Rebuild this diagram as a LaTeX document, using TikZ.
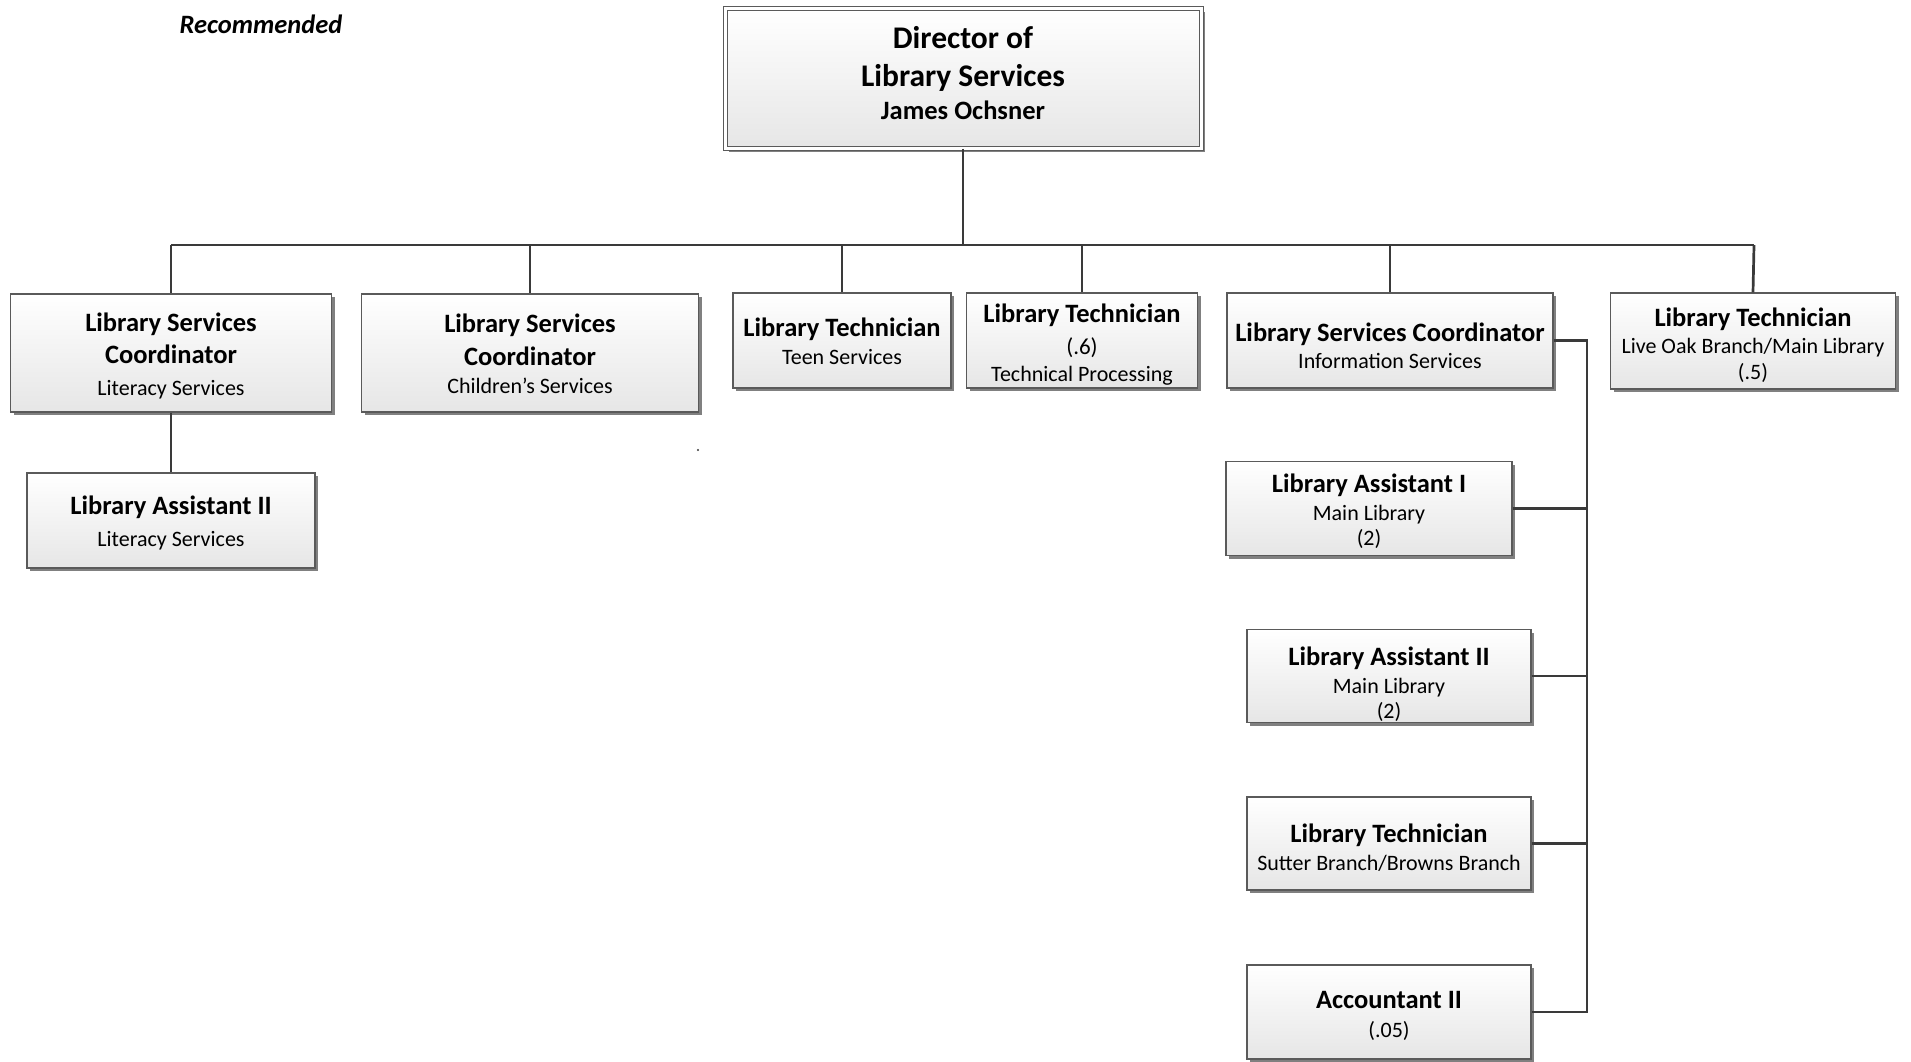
\documentclass[tikz,border=0pt]{standalone}
\usepackage{fontspec}
\setmainfont{Carlito}
\usetikzlibrary{shadows}
\definecolor{boxline}{HTML}{5A5A5A}
\definecolor{boxbot}{HTML}{E6E6E6}
\definecolor{shade}{HTML}{808080}
\definecolor{conn}{HTML}{3A3A3A}
\newcommand{\hdr}{\bfseries\fontsize{26.5}{26}\selectfont}
\newcommand{\bighdr}{\bfseries\fontsize{31.5}{30}\selectfont}
\begin{document}
\begin{tikzpicture}[x=1pt,y=-1pt,
  orgbox/.style={draw=boxline, line width=1.2pt, top color=white, bottom color=boxbot,
    drop shadow={shadow xshift=3pt, shadow yshift=-3pt, fill=shade, opacity=1}},
  topbox/.style={orgbox, double=white, double distance=3pt, line width=1pt,
    drop shadow={shadow xshift=4pt, shadow yshift=-4pt, fill=shade, opacity=1}},
  txt/.style={align=center, inner sep=0pt, font=\fontsize{22}{26}\selectfont, text=black},
  link/.style={draw=conn, line width=2.7pt}]
\useasboundingbox (0,0) rectangle (1911,1062);
\fill[white] (0,0) rectangle (1911,1062);

\node[font=\bfseries\itshape\fontsize{26.5}{30}\selectfont] (rec) at (261,24) {Recommended};

% boxes
\node[topbox, minimum width=476pt, minimum height=140pt] (dir) at (963,78.5) {};
\node[orgbox, minimum width=321pt, minimum height=118pt] (a) at (171,353) {};
\node[orgbox, minimum width=288pt, minimum height=95pt] (b) at (171,520.5) {};
\node[orgbox, minimum width=337pt, minimum height=118pt] (c) at (530,353) {};
\node[orgbox, minimum width=218pt, minimum height=95pt] (d) at (842,340.5) {};
\node[orgbox, minimum width=231pt, minimum height=95pt] (e) at (1082,340.5) {};
\node[orgbox, minimum width=326pt, minimum height=95pt] (f) at (1390,340.5) {};
\node[orgbox, minimum width=285pt, minimum height=96pt] (g) at (1753,341) {};
\node[orgbox, minimum width=286pt, minimum height=94pt] (h) at (1369,508.5) {};
\node[orgbox, minimum width=284pt, minimum height=93pt] (i) at (1389,676) {};
\node[orgbox, minimum width=284pt, minimum height=93pt] (j) at (1389,843.5) {};
\node[orgbox, minimum width=284pt, minimum height=94pt] (k) at (1389,1012) {};

% texts
\node[txt] (dirt) at ([yshift=5.5pt]dir.center)
  {{\bighdr Director of}\\[12pt]{\bighdr Library Services}\\[7.5pt]{\hdr James Ochsner}};
\node[txt] (at) at ([yshift=-2.5pt]a.center)
  {{\hdr Library Services}\\[6.5pt]{\hdr Coordinator}\\[5.5pt]Literacy Services};
\node[txt] (bt) at ([yshift=-2.5pt]b.center)
  {{\hdr Library Assistant II}\\[6.5pt]Literacy Services};
\node[txt] (ct) at ([yshift=-1pt]c.center)
  {{\hdr Library Services}\\[6.5pt]{\hdr Coordinator}\\[2pt]Children’s Services};
\node[txt] (dt) at ([yshift=-1pt]d.center)
  {{\hdr Library Technician}\\[2pt]Teen Services};
\node[txt] (et) at ([yshift=-3.7pt]e.center)
  {{\hdr Library Technician}\\[6pt]{\fontsize{23}{26}\selectfont(.6)}\\[1pt]Technical Processing};
\node[txt] (ft) at ([yshift=-5.5pt]f.center)
  {{\hdr Library Services Coordinator}\\[1pt]Information Services};
\node[txt] (gt) at ([yshift=-4.5pt]g.center)
  {{\hdr Library Technician}\\[1pt]Live Oak Branch/Main Library\\[0pt](.5)};
\node[txt] (ht) at ([yshift=-3pt]h.center)
  {{\hdr Library Assistant I}\\[2pt]Main Library\\[-1pt](2)};
\node[txt] (it) at ([yshift=-8pt]i.center)
  {{\hdr Library Assistant II}\\[2pt]Main Library\\[-1pt](2)};
\node[txt] (jt) at ([yshift=-4pt]j.center)
  {{\hdr Library Technician}\\[2pt]Sutter Branch/Browns Branch};
\node[txt] (kt) at ([yshift=-3.7pt]k.center)
  {{\hdr Accountant II}\\[3pt](.05)};

\coordinate (busL) at (171,245);
\coordinate (busR) at (1754,245);
\coordinate (trunk) at (1587,340.5);
\coordinate (speck) at (698,450);

\draw[link] (dir.south) -- (dir.south |- busL);
\draw[link] (busL) -- (busR);
\foreach \n in {a,c,d,e,f} {\draw[link] (\n.north |- busL) -- (\n.north);}
\draw[link] (busR) -- (g.north);
\draw[link] (a.south) -- (b.north);
\draw[link] (f.east) -- (trunk) -- (trunk |- k.east) -- (k.east);
\foreach \n in {h,i,j} {\draw[link] (\n.east) -- (trunk |- \n.east);}
\fill[conn] (speck) circle (1.2pt);
\end{tikzpicture}
\end{document}
